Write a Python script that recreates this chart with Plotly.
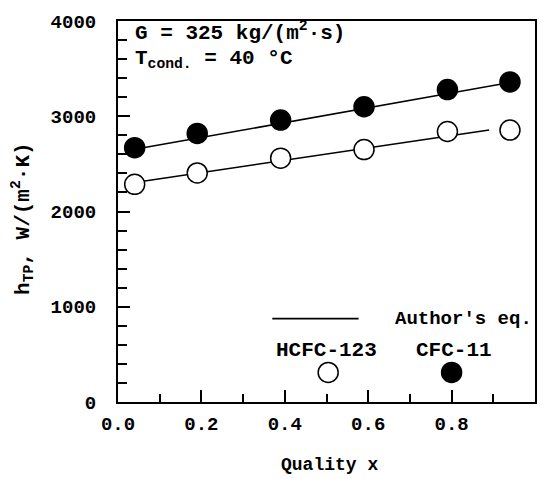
import plotly.graph_objects as go

# Vapour quality at each measurement station
quality = [0.04, 0.19, 0.39, 0.59, 0.79, 0.94]

# Measured two-phase heat transfer coefficients, W/(m2.K)
h_cfc11 = [2670, 2820, 2960, 3100, 3280, 3360]
h_hcfc123 = [2285, 2405, 2560, 2650, 2840, 2855]

# Correlation ("Author's eq.") end points for each refrigerant
eq_x_cfc11 = [0.03, 0.96]
eq_h_cfc11 = [2645, 3370]
eq_x_hcfc123 = [0.04, 0.89]
eq_h_hcfc123 = [2305, 2855]

FONT = "Liberation Mono, Courier New, monospace"

fig = go.Figure()

# correlation lines
fig.add_trace(go.Scatter(x=eq_x_cfc11, y=eq_h_cfc11, mode="lines",
                         line=dict(color="black", width=1.6)))
fig.add_trace(go.Scatter(x=eq_x_hcfc123, y=eq_h_hcfc123, mode="lines",
                         line=dict(color="black", width=1.6)))

# measured points
fig.add_trace(go.Scatter(x=quality, y=h_cfc11, mode="markers",
                         marker=dict(symbol="circle", size=20, color="black",
                                     line=dict(color="black", width=1.5))))
fig.add_trace(go.Scatter(x=quality, y=h_hcfc123, mode="markers",
                         marker=dict(symbol="circle", size=20, color="white",
                                     line=dict(color="black", width=1.5))))

# in-plot key
fig.add_trace(go.Scatter(x=[0.37, 0.577], y=[875, 875], mode="lines",
                         line=dict(color="black", width=1.6)))
fig.add_trace(go.Scatter(x=[0.504], y=[310], mode="markers",
                         marker=dict(symbol="circle", size=20, color="white",
                                     line=dict(color="black", width=1.5))))
fig.add_trace(go.Scatter(x=[0.8], y=[310], mode="markers",
                         marker=dict(symbol="circle", size=20, color="black",
                                     line=dict(color="black", width=1.5))))


def bold(size):
    return dict(family=FONT, size=size, color="black", weight="bold")


annotations = [
    dict(x=0.035, y=3890, text="G = 325 kg/(m<sup>2</sup>·s)", xanchor="left",
         yanchor="middle", showarrow=False, font=bold(21)),
    dict(x=0.035, y=3600, text="T<sub>cond.</sub> = 40 °C",
         xanchor="left", yanchor="middle", showarrow=False, font=bold(21)),
    dict(x=0.66, y=875, text="Author's eq.", xanchor="left", yanchor="middle",
         showarrow=False, font=bold(19)),
    dict(x=0.5, y=540, text="HCFC-123", xanchor="center", yanchor="middle",
         showarrow=False, font=bold(21)),
    dict(x=0.805, y=540, text="CFC-11", xanchor="center", yanchor="middle",
         showarrow=False, font=bold(21)),
    dict(x=-0.228, y=0.483, xref="paper", yref="paper",
         text="h<sub>TP</sub>, W/(m<sup>2</sup>·K)", textangle=-90,
         xanchor="center", yanchor="middle", showarrow=False, font=bold(21)),
    dict(x=0.508, y=-0.166, xref="paper", yref="paper", text="Quality x",
         xanchor="center", yanchor="middle", showarrow=False, borderpad=0,
         font=bold(18)),
]

fig.update_layout(
    width=552, height=479,
    margin=dict(l=118, r=17, t=14, b=77),
    paper_bgcolor="white", plot_bgcolor="white",
    showlegend=False,
    annotations=annotations,
    xaxis=dict(range=[0, 1], dtick=0.2, tickformat=".1f",
               ticks="inside", ticklen=12, tickwidth=1.5, tickcolor="black",
               minor=dict(dtick=0.1, ticks="inside", ticklen=8, tickwidth=1.5,
                          tickcolor="black"),
               showline=True, linecolor="black", linewidth=2, mirror=True,
               showgrid=False, zeroline=False, ticklabelstandoff=3,
               tickfont=bold(19)),
    yaxis=dict(range=[0, 4000], dtick=1000,
               ticks="inside", ticklen=12, tickwidth=1.5, tickcolor="black",
               minor=dict(dtick=200, ticks="inside", ticklen=9, tickwidth=1.5,
                          tickcolor="black"),
               showline=True, linecolor="black", linewidth=2, mirror=True,
               showgrid=False, zeroline=False, ticklabelstandoff=16,
               tickfont=bold(19)),
)

fig.write_html("out.html")
